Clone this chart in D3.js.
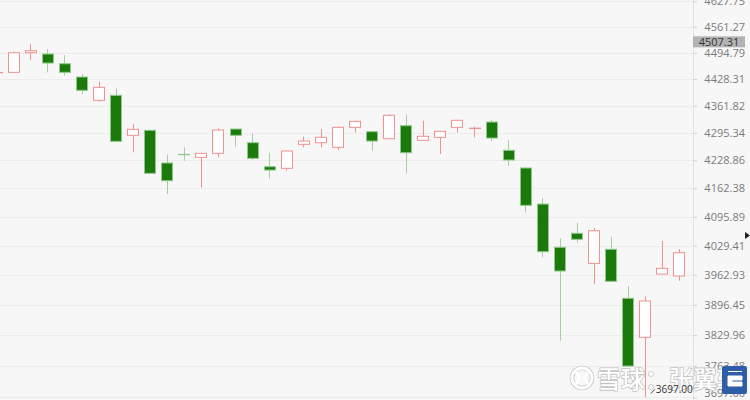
<!DOCTYPE html>
<html>
<head>
<meta charset="utf-8">
<script src="https://cdn.jsdelivr.net/npm/d3@7"></script>
<style>
  html, body { margin: 0; padding: 0; background: #f7f7f7; }
  svg { display: block; }
</style>
</head>
<body>
<svg id="chart" width="750" height="400"></svg>
<script>
// ---- data ----
const categories = ["1","2","3","4","5","6","7","8","9","10","11","12","13","14","15","16","17","18","19","20","21",
  "22","23","24","25","26","27","28","29","30","31","32","33","34","35","36","37","38","39","40","41"];
const openVals  = [4444.0,4445.1,4494.8,4491.5,4466.8,4433.3,4375.1,4387.5,4289.2,4301.4,4222.4,4243.0,4236.0,4245.6,4304.5,4271.2,4213.5,4209.7,4267.3,4271.2,4260.1,
  4308.7,4298.0,4280.9,4312.6,4277.0,4284.3,4308.7,4305.8,4321.6,4252.9,4210.4,4125.3,4025.3,4057.4,3988.9,4020.8,3910.6,3825.1,3964.8,3960.4];
const highVals  = [4446.0,4497.3,4517.0,4504.2,4488.9,4440.9,4421.5,4405.0,4316.7,4302.5,4242.3,4260.1,4246.5,4306.2,4305.7,4294.0,4247.1,4252.5,4285.8,4304.5,4310.9,
  4325.5,4298.9,4340.5,4339.6,4324.8,4300.0,4327.0,4310.1,4326.5,4277.8,4212.6,4139.4,4045.9,4081.9,4069.6,4049.6,3937.9,3914.2,4039.7,4021.5];
const lowVals   = [4443.0,4444.6,4476.2,4445.1,4436.6,4390.8,4371.7,4272.9,4248.0,4197.0,4148.8,4227.9,4164.6,4236.0,4261.6,4229.6,4185.9,4204.0,4260.1,4260.1,4253.6,
  4295.5,4251.9,4280.0,4197.8,4276.0,4243.9,4295.5,4284.3,4275.3,4215.2,4105.5,4002.5,3817.7,4035.8,3942.4,3948.0,3762.0,3697.0,3964.0,3949.8];
const closeVals = [4444.8,4494.8,4499.9,4468.6,4445.1,4400.0,4407.5,4274.6,4303.8,4197.8,4180.2,4242.3,4245.6,4302.1,4289.2,4233.6,4205.6,4251.2,4275.3,4284.3,4308.7,
  4323.3,4275.3,4338.1,4247.1,4286.8,4298.9,4325.8,4306.6,4282.6,4229.6,4122.3,4015.3,3971.6,4043.6,4063.4,3948.5,3763.3,3904.6,3977.7,4013.0];
const tickValues = [3697.00,3763.48,3829.96,3896.45,3962.93,4029.41,4095.89,4162.38,4228.86,4295.34,4361.82,4428.31,4494.79,4561.27,4627.75];
const markerPrice = 4507.31;
const lowLabel = "3697.00";
const watermarkText = "雪球：张翼轸";

const candles = categories.map((c, i) => ({
  cat: c, open: openVals[i], high: highVals[i], low: lowVals[i], close: closeVals[i]
}));

// ---- layout ----
const W = 750, H = 400, plotRight = 693;
const svg = d3.select("#chart");

const x = d3.scalePoint().domain(categories).range([-3.8, 679]);
const y = d3.scaleLog().domain([3697, 4627.75]).range([397.4, 1.3]);
const bodyW = x.step() * 0.66;

svg.append("rect").attr("width", W).attr("height", H).attr("fill", "#f7f7f7");

svg.append("defs").append("clipPath").attr("id", "plotClip")
  .append("rect").attr("x", 0).attr("y", 0).attr("width", plotRight).attr("height", H);

// grid
svg.append("g").selectAll("line").data(tickValues).join("line")
  .attr("x1", 0).attr("x2", plotRight)
  .attr("y1", d => Math.round(y(d)) + 0.5).attr("y2", d => Math.round(y(d)) + 0.5)
  .attr("stroke", "#ececec").attr("stroke-width", 1);

// axis separator
svg.append("line").attr("x1", plotRight + 0.5).attr("x2", plotRight + 0.5)
  .attr("y1", 0).attr("y2", H).attr("stroke", "#e2e2e2");

// right axis via d3.axisRight
const axisG = svg.append("g").attr("transform", `translate(${plotRight},0)`)
  .call(d3.axisRight(y).tickValues(tickValues).tickSize(4).tickPadding(0).tickFormat(d3.format(".2f")));
axisG.select(".domain").remove();
axisG.selectAll(".tick line").attr("stroke", "#d0d0d0");
axisG.selectAll(".tick text")
  .attr("x", 52).attr("text-anchor", "end")
  .attr("fill", "#7a7a7a")
  .style("font-family", "'Open Sans', 'Noto Sans', sans-serif").style("font-size", "11px");
axisG.selectAll(".tick").filter(d => d === tickValues[0]).select("text").attr("dy", "-0.05em");

// candles
const upStroke = "#f09090", downFill = "#1c790b", downStroke = "#8fc98a", downWick = "#a6cf9f";
const cg = svg.append("g").attr("clip-path", "url(#plotClip)");
const g = cg.selectAll("g.candle").data(candles).join("g").attr("class", "candle");
g.append("line")
  .attr("x1", d => Math.round(x(d.cat)) + 0.5).attr("x2", d => Math.round(x(d.cat)) + 0.5)
  .attr("y1", d => y(d.high)).attr("y2", d => y(d.low))
  .attr("stroke", d => d.close >= d.open ? upStroke : downWick).attr("stroke-width", 1);
g.append("rect")
  .attr("x", d => Math.round(x(d.cat) - bodyW / 2) + 0.5)
  .attr("width", Math.round(bodyW))
  .attr("y", d => y(Math.max(d.open, d.close)))
  .attr("height", d => Math.max(0.1, y(Math.min(d.open, d.close)) - y(Math.max(d.open, d.close))))
  .attr("fill", d => d.close >= d.open ? "#ffffff" : downFill)
  .attr("stroke", d => d.close >= d.open ? upStroke : downStroke)
  .attr("stroke-width", 1);

// current price marker
const my = y(markerPrice) - 6;
svg.append("rect").attr("x", plotRight).attr("y", my - 5.5).attr("width", 52).attr("height", 11)
  .attr("fill", "#b3b3b3");
svg.append("text").attr("x", plotRight + 26).attr("y", my).attr("dy", "0.35em")
  .attr("text-anchor", "middle").attr("fill", "#333")
  .style("font-family", "'Open Sans', 'Noto Sans', sans-serif").style("font-size", "11px")
  .text(markerPrice.toFixed(2));

// small right-pointing triangle
const ty = y(4029.41) - 10;
svg.append("path").attr("d", `M745,${ty - 3.5} L750,${ty} L745,${ty + 3.5} Z`).attr("fill", "#222");

// watermark
const wm = svg.append("g");
wm.append("circle").attr("cx", 582).attr("cy", 378).attr("r", 10)
  .attr("fill", "none").attr("stroke", "#c8c8c8").attr("stroke-width", 4.5);
wm.append("circle").attr("cx", 582).attr("cy", 378).attr("r", 10)
  .attr("fill", "none").attr("stroke", "#ffffff").attr("stroke-width", 2.8);
wm.append("path").attr("d", "M576,372 Q582,378 576,384 M588,372 Q582,378 588,384")
  .attr("fill", "none").attr("stroke", "#ffffff").attr("stroke-width", 2.8);
wm.append("text").attr("x", 597).attr("y", 388)
  .style("font-family", "'Noto Sans CJK SC', sans-serif").style("font-size", "24px").style("font-weight", "500")
  .attr("fill", "#ffffff").attr("stroke", "#c4c4c4").attr("stroke-width", 1.6).attr("paint-order", "stroke")
  .text(watermarkText);
wm.append("rect").attr("x", 722).attr("y", 366).attr("width", 25).attr("height", 28).attr("rx", 2)
  .attr("fill", "#2f5ea8");
wm.append("path").attr("d", "M728,376 L742,376 L742,380 L732,380 L732,382 L742,382 L742,386 L728,386 Z M728,371.5 L742,371.5")
  .attr("fill", "#ffffff").attr("stroke", "#ffffff").attr("stroke-width", 1);

// low annotation
const lowIdx = lowVals.indexOf(d3.min(lowVals));
const ax = x(categories[lowIdx]) + 6, ay = y(lowVals[lowIdx]) - 6;
svg.append("line").attr("x1", ax).attr("y1", ay + 2).attr("x2", ax + 4).attr("y2", ay - 2)
  .attr("stroke", "#444").attr("stroke-width", 1);
svg.append("text").attr("x", ax + 5).attr("y", ay + 2)
  .style("font-family", "'Open Sans', 'Noto Sans', sans-serif").style("font-size", "10px")
  .attr("fill", "#333").text(lowLabel);
</script>
</body>
</html>
